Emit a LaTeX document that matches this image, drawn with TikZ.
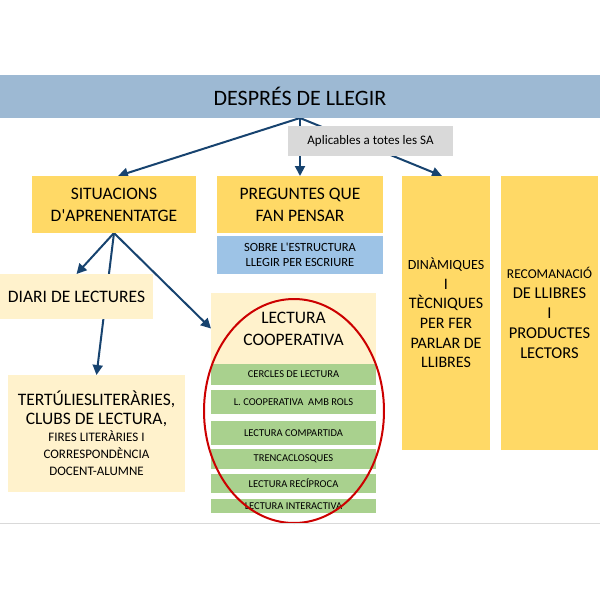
\documentclass[tikz,border=0pt]{standalone}
\usepackage{fontspec}
\setmainfont{Carlito}
\usepackage{tikz}
\usetikzlibrary{arrows.meta, positioning, backgrounds}
\definecolor{titleblue}{HTML}{9DB9D3}
\definecolor{ochre}{HTML}{FFD966}
\definecolor{creamfill}{HTML}{FFF2CC}
\definecolor{skyfill}{HTML}{9DC3E6}
\definecolor{leaffill}{HTML}{A9D18E}
\definecolor{notegray}{HTML}{D9D9D9}
\definecolor{navyarrow}{HTML}{17436F}
\definecolor{ringred}{HTML}{CC0000}
\definecolor{rulegray}{HTML}{D9D9D9}
\tikzset{
    blockbox/.style={
        rectangle, fill=#1, text=black, align=center,
        inner sep=0pt, outer sep=0pt
    },
    blockbox/.default=ochre,
    titlebar/.style={
        blockbox=titleblue, minimum width=600pt, minimum height=43pt,
        font=\fontsize{22}{26}\selectfont
    },
    notebox/.style={
        blockbox=notegray, minimum width=165pt, minimum height=30pt,
        font=\fontsize{13}{15}\selectfont
    },
    stripbox/.style={
        blockbox=leaffill, minimum width=165pt,
        font=\fontsize{10.5}{12}\selectfont
    },
    bigtext/.style={font=\fontsize{17.5}{22}\selectfont},
    flowarrow/.style={
        -{Triangle[length=10pt, width=10pt]}, line width=2pt, color=navyarrow
    },
    ringline/.style={draw=ringred, line width=2pt},
    ruleline/.style={draw=rulegray, line width=1pt},
}
\begin{document}
\begin{tikzpicture}[x=1pt, y=-1pt]
    \useasboundingbox (0,0) rectangle (600,600);

    % header and note
    \node[titlebar] (title) at (300,96.5) {DESPRÉS DE LLEGIR};
    \node[notebox] (note) at (370.5,141) {Aplicables a totes les SA};

    % second row
    \node[blockbox, bigtext, minimum width=164pt, minimum height=57pt] (situ) at (114,204.5) {SITUACIONS\\D\textquotesingle APRENENTATGE};
    \node[blockbox, bigtext, minimum width=166pt, minimum height=57pt] (preg) at (300,204.5) {PREGUNTES QUE\\FAN PENSAR};
    \node[blockbox=skyfill, font=\fontsize{12.5}{15}\selectfont, minimum width=166pt, minimum height=38pt, below=3pt of preg] (estr) {SOBRE L\textquotesingle ESTRUCTURA\\LLEGIR PER ESCRIURE};
    \node[blockbox, font=\fontsize{16}{19.6}\selectfont, minimum width=88pt, minimum height=274pt] (dina) at (446,313) {{\fontsize{14}{19.6}\selectfont DINÀMIQUES}\\I\\TÈCNIQUES\\PER FER\\PARLAR DE\\LLIBRES};
    \node[blockbox, font=\fontsize{16.5}{20}\selectfont, minimum width=97pt, minimum height=274pt] (reco) at (549.5,313) {{\fontsize{13.5}{20}\selectfont RECOMANACIÓ}\\DE LLIBRES\\I\\PRODUCTES\\LECTORS};

    % left column
    \node[blockbox=creamfill, bigtext, minimum width=153pt, minimum height=45pt] (diari) at (76.5,296.5) {DIARI DE LECTURES};
    \node[blockbox=creamfill, bigtext, minimum width=177pt, minimum height=117pt] (tert) at (96.5,433.5) {TERTÚLIESLITERÀRIES,\\[-3pt]CLUBS DE LECTURA,\\[-5pt]{\fontsize{13}{17}\selectfont FIRES LITERÀRIES I}\\[-5pt]{\fontsize{13}{17}\selectfont CORRESPONDÈNCIA}\\[-5pt]{\fontsize{13}{17}\selectfont DOCENT-ALUMNE}};

    % cooperative reading
    \node[blockbox=creamfill, bigtext, minimum width=165pt, minimum height=71pt] (coop) at (293.5,328.5) {LECTURA\\COOPERATIVA};
    \node[stripbox, minimum height=21pt, below=0pt of coop] (cercles) {CERCLES DE LECTURA};
    \node[stripbox, minimum height=24pt, below=5pt of cercles] (rols) {L. COOPERATIVA\ \ AMB ROLS};
    \node[stripbox, minimum height=24pt, below=7pt of rols] (compart) {LECTURA COMPARTIDA};
    \node[stripbox, minimum height=20pt, below=4pt of compart] (trenca) {TRENCACLOSQUES};
    \node[stripbox, minimum height=19pt, below=5pt of trenca] (recip) {LECTURA RECÍPROCA};
    \node[stripbox, minimum height=14pt, below=6pt of recip] (interac) {LECTURA INTERACTIVA};

    \draw[ringline] (294,411) ellipse [x radius=90pt, y radius=112pt];
    \draw[ruleline] (0,523) -- (600,523);

    % connectors
    \begin{scope}[on background layer]
        \draw[flowarrow] (title.south) -- ([xshift=4pt]situ.north);
        \draw[flowarrow] (title.south) -- (preg.north);
        \draw[flowarrow] (title.south) -- ([xshift=-4pt]dina.north);
        \draw[flowarrow] (situ.south) -- (diari.north);
        \draw[flowarrow] (situ.south) -- (tert.north);
        \draw[flowarrow] (situ.south) -- (coop.west);
    \end{scope}
\end{tikzpicture}
\end{document}
